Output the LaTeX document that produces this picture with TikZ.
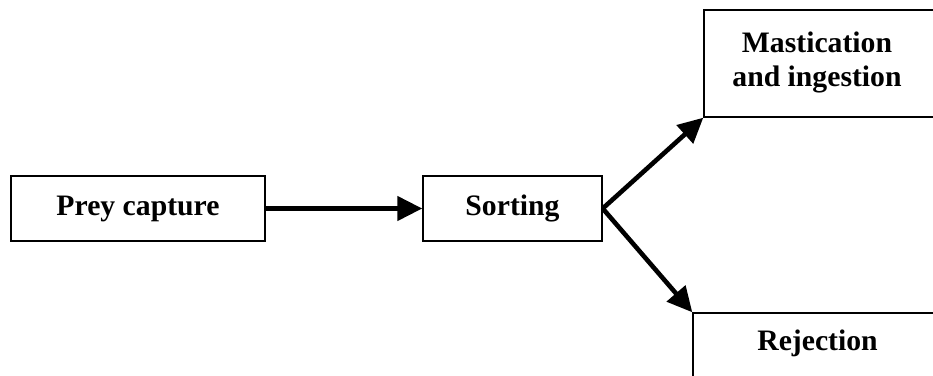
\documentclass[tikz,border=0pt]{standalone}
\usepackage{fontspec}
\setmainfont{Liberation Serif}
\usetikzlibrary{arrows.meta}
\begin{document}
\begin{tikzpicture}[x=1pt,y=1pt,
  stagebox/.style={draw=black, line width=1.4pt, rectangle, inner sep=0pt},
  stagetext/.style={font=\bfseries\fontsize{29.7}{34}\selectfont, align=center, inner sep=0pt},
  flow/.style={line width=4.6pt, -{Triangle[length=25pt,width=24pt]}}
]
\useasboundingbox (0,0) rectangle (933,-375);
\clip (0,0) rectangle (933,-375);

% left and middle stages
\node[stagebox, minimum width=254pt, minimum height=65pt] (prey) at (138,-208.5) {};
\node[stagetext] (preytext) at (138,-208.5) {Prey capture};
\node[stagebox, minimum width=179pt, minimum height=65pt] (sort) at (512.5,-208.5) {};
\node[stagetext] (sorttext) at (512.5,-208.5) {Sorting};

% outcome stages, running off the right edge
\node[stagebox, minimum width=260pt, minimum height=107pt] (mast) at (834,-63.5) {};
\node[stagetext] (masttext) at (817,-62) {Mastication\\and ingestion};
\node[stagebox, minimum width=270pt, minimum height=80pt] (rej) at (828,-353) {};
\node[stagetext] (rejtext) at (817.5,-343) {Rejection};

% connectors
\draw[flow] (prey.east) -- (sort.west);
\draw[flow] (sort.east) -- (mast.south west);
\draw[flow] (sort.east) -- (rej.north west);
\end{tikzpicture}
\end{document}
